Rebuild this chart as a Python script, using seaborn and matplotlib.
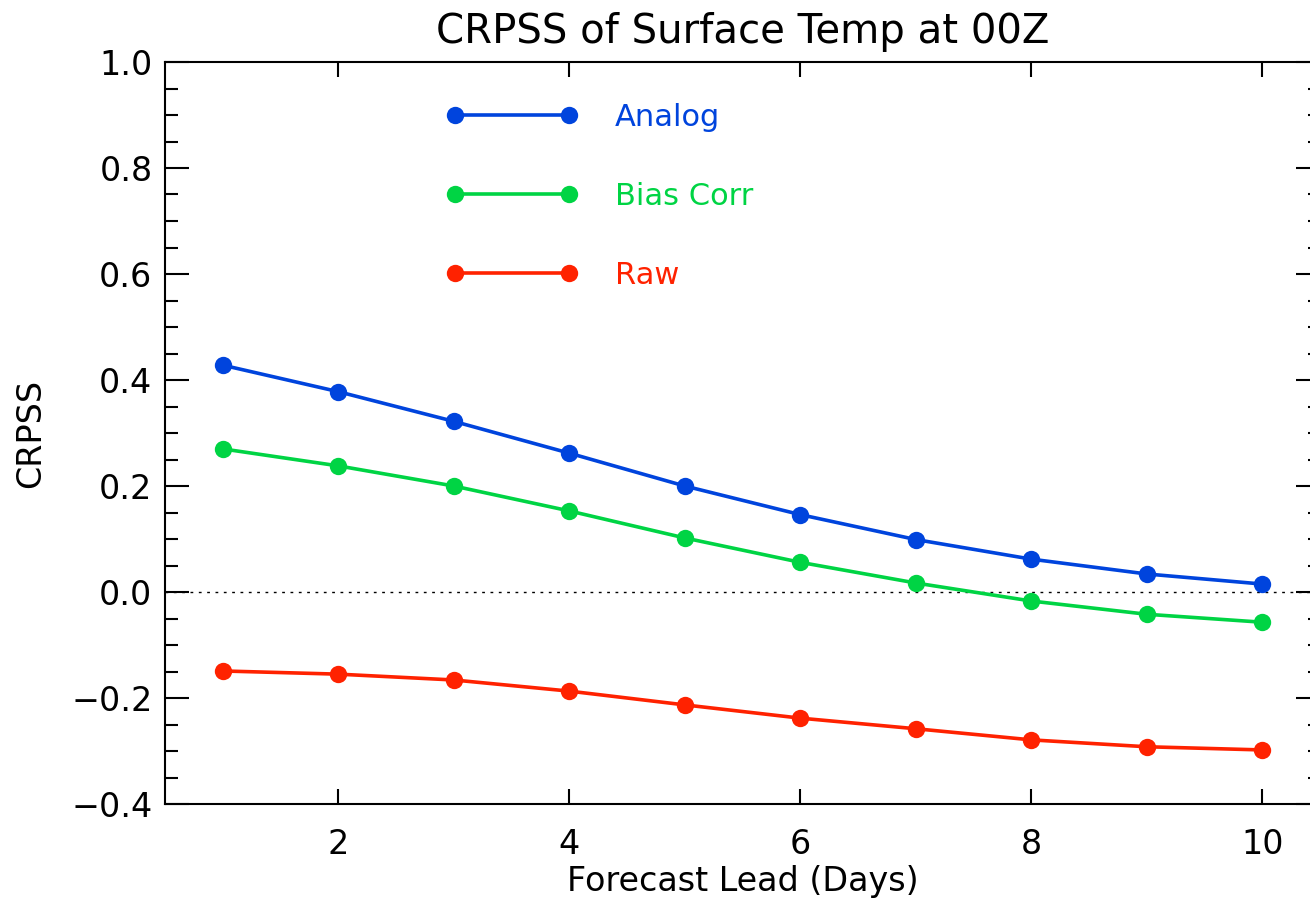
import numpy as np
import pandas as pd
import seaborn as sns
import matplotlib
matplotlib.use("Agg")
import matplotlib.pyplot as plt
from matplotlib.ticker import MultipleLocator, FuncFormatter

lead_days = [1, 2, 3, 4, 5, 6, 7, 8, 9, 10]
analog = [0.428, 0.378, 0.322, 0.262, 0.200, 0.146, 0.099, 0.062, 0.034, 0.015]
bias_corr = [0.270, 0.238, 0.200, 0.153, 0.102, 0.056, 0.017, -0.017, -0.042, -0.057]
raw = [-0.149, -0.155, -0.166, -0.187, -0.213, -0.238, -0.258, -0.279, -0.292, -0.298]
series_names = ["Analog", "Bias Corr", "Raw"]
colors = ["#0044dd", "#00d444", "#ff2200"]

df = pd.concat([
    pd.DataFrame({"lead": lead_days, "crpss": vals, "series": name})
    for name, vals in zip(series_names, [analog, bias_corr, raw])
])

sns.set_style("ticks")
plt.rcParams["font.family"] = ["DejaVu Sans"]
plt.rcParams["text.color"] = "black"
plt.rcParams["axes.labelcolor"] = "black"

fig = plt.figure(figsize=(13.10, 9.09), dpi=100)
ax = fig.add_axes([165 / 1310, 1 - 804 / 909, (1320 - 165) / 1310, (804 - 62) / 909])

sns.lineplot(data=df, x="lead", y="crpss", hue="series", hue_order=series_names,
             palette=colors, marker="o", markersize=12.5, markeredgewidth=0,
             linewidth=2.6, ax=ax, legend=True)

ax.axhline(0.0, color="black", linestyle=(0, (2, 4)), linewidth=1.0, zorder=1)

ax.set_xlim(0.5, 10.5)
ax.set_ylim(-0.4, 1.0)
ax.xaxis.set_major_locator(MultipleLocator(2))
ax.yaxis.set_major_locator(MultipleLocator(0.2))
ax.yaxis.set_minor_locator(MultipleLocator(0.05))
ax.yaxis.set_major_formatter(FuncFormatter(lambda v, p: f"{v:.1f}".replace("-", "\u2212")))

for s in ax.spines.values():
    s.set_visible(True)
    s.set_linewidth(1.5)
    s.set_color("black")

ax.tick_params(axis="both", which="both", direction="in", top=True, right=True,
               colors="black", labelsize=24, width=1.5)
ax.tick_params(axis="y", which="major", length=17, pad=9)
ax.tick_params(axis="y", which="minor", length=9)
ax.tick_params(axis="x", which="major", length=11, pad=17)

ax.set_xlabel("Forecast Lead (Days)", fontsize=24, labelpad=3)
ax.set_ylabel("CRPSS", fontsize=24, labelpad=17)
ax.set_title("CRPSS of Surface Temp at 00Z", fontsize=29, pad=14, color="black")

handles, labels = ax.get_legend_handles_labels()
leg = ax.legend(handles, labels, loc="upper left", bbox_to_anchor=(0.243, 0.945),
                frameon=False, numpoints=2, handlelength=4.35, handletextpad=1.18,
                labelspacing=1.64, fontsize=22, borderpad=0, borderaxespad=0)
for txt, c in zip(leg.get_texts(), colors):
    txt.set_color(c)

fig.savefig("out.png", dpi=100)
